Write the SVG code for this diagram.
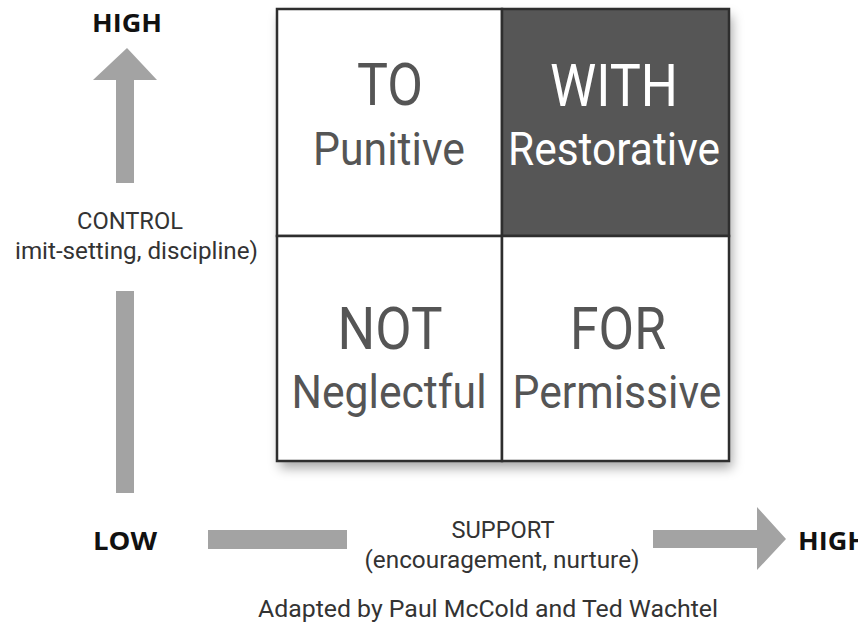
<svg xmlns="http://www.w3.org/2000/svg" width="858" height="632" viewBox="0 0 858 632">
<style>
.cellw{fill:#ffffff;stroke:#2e2e2e;stroke-width:2.5}
.celld{fill:#565656;stroke:#2e2e2e;stroke-width:2.5}
.big{font-family:Roboto,"Liberation Sans",sans-serif;font-size:60px;fill:#555555;text-anchor:middle}
.sub{font-family:Roboto,"Liberation Sans",sans-serif;font-size:46px;fill:#555555;text-anchor:middle}
.inv{fill:#ffffff}
.lab{font-family:Roboto,"Liberation Sans",sans-serif;font-size:24px;fill:#333333}
.bold{font-family:"Open Sans","DejaVu Sans",sans-serif;font-weight:bold;font-size:25px;fill:#111111}
.arr{fill:#a3a3a3}
</style>
<defs>
<filter id="sh" x="-10%" y="-10%" width="125%" height="125%">
<feDropShadow dx="3" dy="7" stdDeviation="6" flood-color="#000" flood-opacity="0.35"/>
</filter>
</defs>
<rect x="0" y="0" width="858" height="632" fill="#ffffff"/>
<g id="grid" filter="url(#sh)">
<rect x="277" y="9" width="452" height="452" fill="#ffffff"/>
</g>
<g id="cell-to">
<rect class="cellw" x="277" y="9" width="225" height="227"/>
<text class="big" x="390" y="105" textLength="66" lengthAdjust="spacingAndGlyphs">TO</text>
<text class="sub" x="389" y="165" textLength="152" lengthAdjust="spacingAndGlyphs">Punitive</text>
</g>
<g id="cell-with">
<rect class="celld" x="502" y="9" width="227" height="227"/>
<text class="big inv" x="614" y="106" textLength="128" lengthAdjust="spacingAndGlyphs">WITH</text>
<text class="sub inv" x="614" y="165" textLength="212" lengthAdjust="spacingAndGlyphs">Restorative</text>
</g>
<g id="cell-not">
<rect class="cellw" x="277" y="236" width="225" height="225"/>
<text class="big" x="390" y="349" textLength="105" lengthAdjust="spacingAndGlyphs">NOT</text>
<text class="sub" x="389" y="408" textLength="195" lengthAdjust="spacingAndGlyphs">Neglectful</text>
</g>
<g id="cell-for">
<rect class="cellw" x="502" y="236" width="227" height="225"/>
<text class="big" x="618" y="349" textLength="96" lengthAdjust="spacingAndGlyphs">FOR</text>
<text class="sub" x="617" y="408" textLength="209" lengthAdjust="spacingAndGlyphs">Permissive</text>
</g>
<g id="connectors">
<polygon class="arr" points="127,48 157,80 134,80 134,183 116,183 116,80 93,80"/>
<rect class="arr" x="116" y="291" width="18" height="202"/>
<rect class="arr" x="208" y="530" width="139" height="19"/>
<polygon class="arr" points="653,530 757,530 757,507 786,539 757,570 757,548 653,548"/>
</g>
<g id="label-high-control">
<text class="bold" x="127" y="32" text-anchor="middle" textLength="70" lengthAdjust="spacingAndGlyphs">HIGH</text>
</g>
<g id="label-control">
<text class="lab" x="130" y="229" text-anchor="middle" textLength="106" lengthAdjust="spacingAndGlyphs">CONTROL</text>
<text class="lab" x="15" y="259" textLength="243" lengthAdjust="spacingAndGlyphs">imit-setting, discipline)</text>
</g>
<g id="label-low">
<text class="bold" x="93" y="550" textLength="64" lengthAdjust="spacingAndGlyphs">LOW</text>
</g>
<g id="label-support">
<text class="lab" x="503" y="538" text-anchor="middle" textLength="103" lengthAdjust="spacingAndGlyphs">SUPPORT</text>
<text class="lab" x="502" y="568" text-anchor="middle" textLength="275" lengthAdjust="spacingAndGlyphs">(encouragement, nurture)</text>
</g>
<g id="label-high-support">
<text class="bold" x="798" y="550" textLength="70" lengthAdjust="spacingAndGlyphs">HIGH</text>
</g>
<g id="credit">
<text class="lab" x="488" y="617" text-anchor="middle" textLength="460" lengthAdjust="spacingAndGlyphs">Adapted by Paul McCold and Ted Wachtel</text>
</g>
</svg>
